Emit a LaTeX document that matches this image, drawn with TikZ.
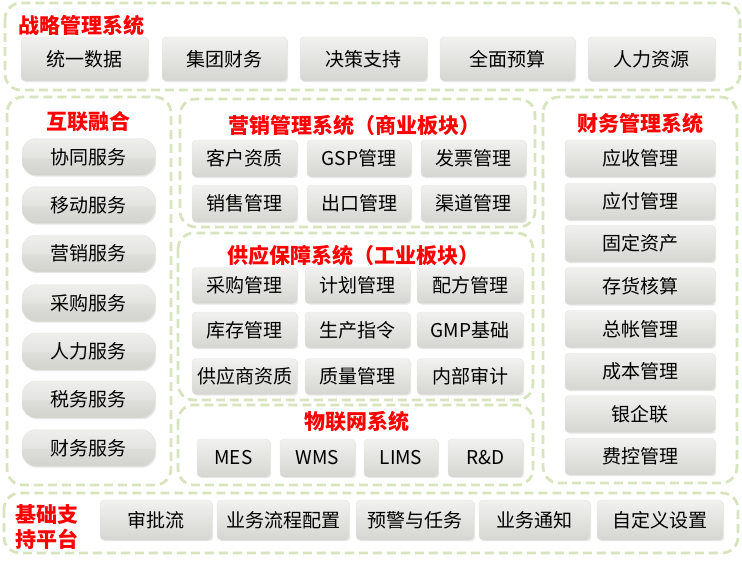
\documentclass[tikz,border=0pt]{standalone}
\usepackage{fontspec}
\setmainfont{Noto Sans CJK SC}
\usepackage{xcolor}
\usetikzlibrary{shadows}
\definecolor{panelgreen}{HTML}{D7E4BD}
\definecolor{titlered}{HTML}{FF0000}
\definecolor{tiletop}{HTML}{F1F1EF}
\definecolor{tilebot}{HTML}{D5D5D1}
\definecolor{pilltop}{HTML}{EEEEEC}
\definecolor{pillmid}{HTML}{E4E4E1}
\definecolor{pillbot}{HTML}{D3D3CE}
\pgfdeclareverticalshading{tilegloss}{100bp}{color(0bp)=(tilebot); color(25bp)=(tilebot); color(60bp)=(tiletop!70!tilebot); color(75bp)=(tiletop); color(100bp)=(tiletop)}
\pgfdeclareverticalshading{pillgloss}{100bp}{color(0bp)=(pillbot); color(25bp)=(pillbot); color(49bp)=(pillmid!60!pillbot); color(50.5bp)=(pillmid); color(75bp)=(pilltop); color(100bp)=(pilltop)}
\tikzset{
  panel/.style={draw=panelgreen, line width=2.8pt, dash pattern=on 9pt off 5pt, rounded corners=16pt},
  paneltitle/.style={text=titlered, font=\bfseries\fontsize{21}{23}\selectfont, inner sep=0pt},
  tile/.style={rounded corners=4pt, draw=black!10, shading=tilegloss, inner sep=0pt,
    drop shadow={shadow xshift=1.2pt, shadow yshift=-1.2pt, opacity=0.18},
    minimum height=37pt, font=\fontsize{19}{21}\selectfont, text=black},
  pill/.style={tile, rounded corners=14pt, shading=pillgloss}
}
\begin{document}
\begin{tikzpicture}[x=1pt, y=-1pt]
  \useasboundingbox (0,0) rectangle (742,566);
  \draw[panel] (5,3) rectangle (740,90);
  \draw[panel] (7,97) rectangle (171,485);
  \draw[panel] (180,99) rectangle (535,227);
  \draw[panel] (178,233) rectangle (533,400);
  \draw[panel] (178,405) rectangle (533,485);
  \draw[panel] (543,97) rectangle (737,483);
  \draw[panel] (4,493) rectangle (738,553);

  \node[paneltitle, anchor=west] (strat) at (18,25) {战略管理系统};
  \node[tile, minimum width=127pt, minimum height=44pt] (top1) at (84.5,59) {统一数据};
  \node[tile, minimum width=125pt, minimum height=44pt] (top2) at (224.5,59) {集团财务};
  \node[tile, minimum width=127pt, minimum height=44pt] (top3) at (363.5,59) {决策支持};
  \node[tile, minimum width=135pt, minimum height=44pt] (top4) at (507.5,59) {全面预算};
  \node[tile, minimum width=127pt, minimum height=44pt] (top5) at (651.5,59) {人力资源};

  \node[paneltitle] (link) at (88,122) {互联融合};
  \node[pill, minimum width=133pt] (link1) at (88.5,157) {协同服务};
  \node[pill, minimum width=133pt] (link2) at (88.5,205) {移动服务};
  \node[pill, minimum width=133pt] (link3) at (88.5,253.5) {营销服务};
  \node[pill, minimum width=133pt] (link4) at (88.5,303) {采购服务};
  \node[pill, minimum width=133pt] (link5) at (88.5,351.5) {人力服务};
  \node[pill, minimum width=133pt] (link6) at (88.5,399.5) {税务服务};
  \node[pill, minimum width=133pt] (link7) at (88.5,448) {财务服务};

  \node[paneltitle] (mkt) at (354,125) {营销管理系统（商业板块）};
  \node[tile, minimum width=105pt] (mkt1) at (244.5,158.5) {客户资质};
  \node[tile, minimum width=104pt] (mkt2) at (359,158.5) {GSP管理};
  \node[tile, minimum width=105pt] (mkt3) at (473.5,158.5) {发票管理};
  \node[tile, minimum width=105pt] (mkt4) at (244.5,203.5) {销售管理};
  \node[tile, minimum width=104pt] (mkt5) at (359,203.5) {出口管理};
  \node[tile, minimum width=105pt] (mkt6) at (473.5,203.5) {渠道管理};

  \node[paneltitle] (sup) at (353,255) {供应保障系统（工业板块）};
  \node[tile, minimum width=105pt, minimum height=36pt] (sup1) at (244.5,285.5) {采购管理};
  \node[tile, minimum width=105pt, minimum height=36pt] (sup2) at (357.5,285.5) {计划管理};
  \node[tile, minimum width=106pt, minimum height=36pt] (sup3) at (470,285.5) {配方管理};
  \node[tile, minimum width=105pt, minimum height=36pt] (sup4) at (244.5,330) {库存管理};
  \node[tile, minimum width=105pt, minimum height=36pt] (sup5) at (357.5,330) {生产指令};
  \node[tile, minimum width=106pt, minimum height=36pt] (sup6) at (470,330) {GMP基础};
  \node[tile, minimum width=105pt, minimum height=36pt] (sup7) at (244.5,376.5) {供应商资质};
  \node[tile, minimum width=105pt, minimum height=36pt] (sup8) at (357.5,376.5) {质量管理};
  \node[tile, minimum width=106pt, minimum height=36pt] (sup9) at (470,376.5) {内部审计};

  \node[paneltitle] (iot) at (357,422) {物联网系统};
  \node[tile, minimum width=73pt, minimum height=38pt] (iot1) at (233.5,458) {MES};
  \node[tile, minimum width=75pt, minimum height=38pt] (iot2) at (317.5,458) {WMS};
  \node[tile, minimum width=74pt, minimum height=38pt] (iot3) at (401,458) {LIMS};
  \node[tile, minimum width=75pt, minimum height=38pt] (iot4) at (485.5,458) {R\&D};

  \node[paneltitle] (fin) at (640,123) {财务管理系统};
  \node[tile, minimum width=150pt] (fin1) at (640,158.5) {应收管理};
  \node[tile, minimum width=150pt] (fin2) at (640,201.5) {应付管理};
  \node[tile, minimum width=150pt] (fin3) at (640,243.5) {固定资产};
  \node[tile, minimum width=150pt] (fin4) at (640,286) {存货核算};
  \node[tile, minimum width=150pt] (fin5) at (640,329) {总帐管理};
  \node[tile, minimum width=150pt] (fin6) at (640,371.5) {成本管理};
  \node[tile, minimum width=150pt] (fin7) at (640,414) {银企联};
  \node[tile, minimum width=150pt] (fin8) at (640,456.5) {费控管理};

  \node[paneltitle, align=center, font=\bfseries\fontsize{21}{25}\selectfont] (base) at (47,527.5) {基础支\\持平台};
  \node[tile, minimum width=112pt, minimum height=40pt] (base1) at (156,520) {审批流};
  \node[tile, minimum width=132pt, minimum height=40pt] (base2) at (283,520) {业务流程配置};
  \node[tile, minimum width=118pt, minimum height=40pt] (base3) at (415,520) {预警与任务};
  \node[tile, minimum width=111pt, minimum height=40pt] (base4) at (534.5,520) {业务通知};
  \node[tile, minimum width=126pt, minimum height=40pt] (base5) at (660,520) {自定义设置};
\end{tikzpicture}
\end{document}
